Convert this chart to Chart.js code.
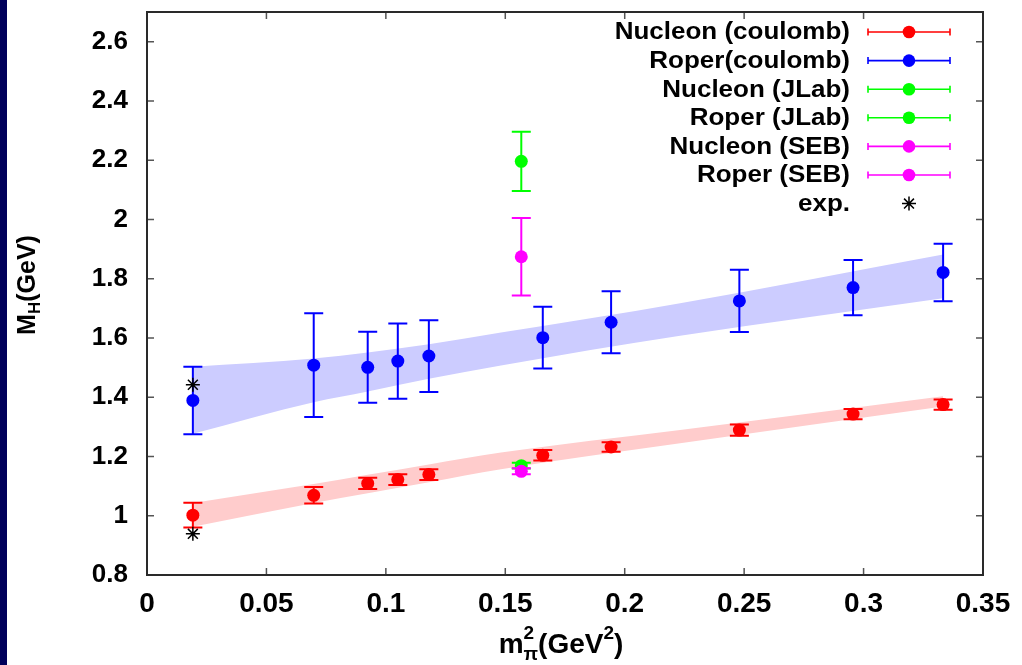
<!DOCTYPE html>
<html><head><meta charset="utf-8">
<script src="https://cdn.jsdelivr.net/npm/chart.js@4.4.1/dist/chart.umd.min.js"></script>
<style>html,body{margin:0;padding:0;background:#fff;overflow:hidden}#wrap{width:1022px;height:665px;position:relative}</style>
</head><body><div id="wrap"><canvas id="c" width="1022" height="665"></canvas></div>
<script>
// ---- data ----
const latticeX   = [0.0192, 0.0698, 0.0924, 0.105, 0.118, 0.1657, 0.1943, 0.248, 0.2956, 0.3333];
const nucleonY   = [1.002, 1.069, 1.109, 1.122, 1.139, 1.204, 1.232, 1.289, 1.343, 1.375];
const nucleonErr = [0.042, 0.028, 0.019, 0.018, 0.018, 0.018, 0.016, 0.019, 0.017, 0.017];
const roperY     = [1.389, 1.508, 1.501, 1.522, 1.539, 1.601, 1.653, 1.725, 1.770, 1.821];
const roperErr   = [0.114, 0.175, 0.120, 0.127, 0.121, 0.104, 0.105, 0.105, 0.093, 0.097];
const otherX          = [0.1567];
const jlabNucleonY    = [1.169];
const jlabNucleonErr  = [0.010];
const jlabRoperY      = [2.196];
const jlabRoperErr    = [0.100];
const sebNucleonY     = [1.150];
const sebNucleonErr   = [0.010];
const sebRoperY       = [1.874];
const sebRoperErr     = [0.131];
const expX = [0.0192, 0.0192];
const expY = [0.939, 1.442];
const bandX      = [0.0192, 0.0698, 0.0924, 0.118, 0.1482, 0.2232, 0.3333];
const roperUpper = [1.503, 1.531, 1.551, 1.579, 1.618, 1.717, 1.882];
const roperLower = [1.277, 1.383, 1.419, 1.462, 1.507, 1.607, 1.734];
const nucUpper   = [1.043, 1.107, 1.138, 1.173, 1.213, 1.289, 1.403];
const nucLower   = [0.963, 1.043, 1.076, 1.113, 1.157, 1.245, 1.369];
const xTicks = [0, 0.05, 0.1, 0.15, 0.2, 0.25, 0.3, 0.35];
const xTickLabels = ['0', '0.05', '0.1', '0.15', '0.2', '0.25', '0.3', '0.35'];
const yTicks = [0.8, 1.0, 1.2, 1.4, 1.6, 1.8, 2.0, 2.2, 2.4, 2.6];
const yTickLabels = ['0.8', '1', '1.2', '1.4', '1.6', '1.8', '2', '2.2', '2.4', '2.6'];
const seriesLabels = ['Nucleon (coulomb)', 'Roper(coulomb)', 'Nucleon (JLab)', 'Roper (JLab)', 'Nucleon (SEB)', 'Roper (SEB)', 'exp.'];

const FONT = "'Liberation Sans', Arial, sans-serif";
const NARROW = "'Liberation Sans Narrow', 'Liberation Sans', Arial, sans-serif";
const pts = (xs, ys) => xs.map((x, i) => ({x, y: ys[i]}));

function pointSet(label, xs, ys, errs, color, order) {
  return {type: 'scatter', label, data: pts(xs, ys), errs, errColor: color,
    pointRadius: 6.5, pointHoverRadius: 6.5, pointStyle: 'circle',
    backgroundColor: color, borderColor: color, borderWidth: 0, showLine: false, order};
}
function bandSet(label, ys, color, fill) {
  return {type: 'line', label, data: pts(bandX, ys), fill, backgroundColor: color,
    borderWidth: 0, borderColor: 'rgba(0,0,0,0)', pointRadius: 0, cubicInterpolationMode: 'monotone', order: 200};
}

const datasets = [
  pointSet(seriesLabels[0], latticeX, nucleonY, nucleonErr, '#ff0000', 100),
  pointSet(seriesLabels[1], latticeX, roperY, roperErr, '#0000ff', 99),
  pointSet(seriesLabels[2], otherX, jlabNucleonY, jlabNucleonErr, '#00ff00', 98),
  pointSet(seriesLabels[3], otherX, jlabRoperY, jlabRoperErr, '#00ff00', 97),
  pointSet(seriesLabels[4], otherX, sebNucleonY, sebNucleonErr, '#ff00ff', 96),
  pointSet(seriesLabels[5], otherX, sebRoperY, sebRoperErr, '#ff00ff', 95),
  {type: 'scatter', label: seriesLabels[6], data: pts(expX, expY), pointStyle: 'star', pointRadius: 7,
    borderColor: '#000', backgroundColor: '#000', borderWidth: 1.5, order: 94},
  bandSet('roperBandUpper', roperUpper, '#ccccff', '+1'),
  bandSet('roperBandLower', roperLower, '#ccccff', false),
  bandSet('nucBandUpper', nucUpper, '#ffcccc', '+1'),
  bandSet('nucBandLower', nucLower, '#ffcccc', false)
];

const bgPlugin = {id: 'bg', beforeDraw(chart) {
  const c = chart.ctx; c.save(); c.fillStyle = '#fff'; c.fillRect(0, 0, chart.width, chart.height);
  c.fillStyle = '#00005a'; c.fillRect(0, 0, 7, chart.height); c.restore();
}};

const errPlugin = {id: 'err', beforeDatasetDraw(chart, args) {
  const ds = chart.data.datasets[args.index]; if (!ds.errs) return;
  const c = chart.ctx, xs = chart.scales.x, ys = chart.scales.y, a = chart.chartArea;
  c.save(); c.beginPath(); c.rect(a.left, a.top, a.right - a.left, a.bottom - a.top); c.clip();
  c.strokeStyle = ds.errColor; c.lineWidth = 2;
  ds.data.forEach((p, i) => {
    const e = ds.errs[i], px = xs.getPixelForValue(p.x);
    const y1 = ys.getPixelForValue(p.y + e), y2 = ys.getPixelForValue(p.y - e);
    c.beginPath(); c.moveTo(px, y1); c.lineTo(px, y2);
    c.moveTo(px - 9.5, y1); c.lineTo(px + 9.5, y1);
    c.moveTo(px - 9.5, y2); c.lineTo(px + 9.5, y2); c.stroke();
  });
  c.restore();
}};

const framePlugin = {id: 'frame', afterDraw(chart) {
  const c = chart.ctx, a = chart.chartArea, xs = chart.scales.x, ys = chart.scales.y;
  c.save();
  c.strokeStyle = '#555'; c.lineWidth = 1.5; c.beginPath();
  xTicks.forEach(v => { const px = xs.getPixelForValue(v);
    c.moveTo(px, a.bottom); c.lineTo(px, a.bottom - 7); c.moveTo(px, a.top); c.lineTo(px, a.top + 7); });
  yTicks.forEach(v => { const py = ys.getPixelForValue(v);
    c.moveTo(a.left, py); c.lineTo(a.left + 7, py); c.moveTo(a.right, py); c.lineTo(a.right - 7, py); });
  c.stroke();
  c.strokeStyle = '#2a2a2a'; c.lineWidth = 2;
  c.strokeRect(a.left, a.top, a.right - a.left, a.bottom - a.top);

  // axis titles
  c.fillStyle = '#000'; c.textBaseline = 'alphabetic';
  c.save(); c.translate(35, 285); c.rotate(-Math.PI / 2);
  const ybig = 'bold 25px ' + FONT, ysmall = 'bold 17px ' + FONT;
  c.font = ybig; const wM = c.measureText('M').width, wG = c.measureText('(GeV)').width;
  c.font = ysmall; const wH = c.measureText('H').width;
  let x0 = -(wM + wH + wG) / 2;
  c.font = ybig; c.textAlign = 'left'; c.fillText('M', x0, 0);
  c.font = ysmall; c.fillText('H', x0 + wM, 5);
  c.font = ybig; c.fillText('(GeV)', x0 + wM + wH, 0);
  c.restore();
  const xbig = 'bold 28px ' + NARROW, xsmall = 'bold 19px ' + NARROW;
  c.font = xbig; const wm = c.measureText('m').width, wg = c.measureText('(GeV').width, wp = c.measureText(')').width;
  c.font = xsmall; const wpi = c.measureText('\u03c0').width, w2 = c.measureText('2').width;
  const tw = wm + Math.max(wpi, w2) + wg + w2 + wp;
  let cx = 561 - tw / 2; const base = 653; c.textAlign = 'left';
  c.font = xbig; c.fillText('m', cx, base); cx += wm;
  c.font = xsmall; c.fillText('\u03c0', cx, base + 7); c.fillText('2', cx, base - 14); cx += Math.max(wpi, w2);
  c.font = xbig; c.fillText('(GeV', cx, base); cx += wg;
  c.font = xsmall; c.fillText('2', cx, base - 14); cx += w2;
  c.font = xbig; c.fillText(')', cx, base);

  // legend
  const rowY0 = 32, rowStep = 28.6, textRight = 850, sx1 = 868, sx2 = 950, mx = 909;
  const legendSets = chart.data.datasets.slice(0, 7);
  legendSets.forEach((ds, i) => {
    const y = rowY0 + i * rowStep;
    c.save(); c.font = 'bold 23px ' + FONT; c.textAlign = 'right'; c.textBaseline = 'middle';
    c.translate(textRight, y + 1); c.scale(1.13, 1); c.fillStyle = '#000'; c.fillText(ds.label, 0, 0); c.restore();
    if (ds.errs) {
      c.strokeStyle = ds.errColor; c.lineWidth = 1.6; c.beginPath();
      c.moveTo(sx1, y); c.lineTo(sx2, y); c.moveTo(sx1, y - 3.5); c.lineTo(sx1, y + 3.5);
      c.moveTo(sx2, y - 3.5); c.lineTo(sx2, y + 3.5); c.stroke();
      c.fillStyle = ds.errColor; c.beginPath(); c.arc(mx, y, 6.3, 0, Math.PI * 2); c.fill();
    } else {
      c.save(); c.strokeStyle = '#000'; c.fillStyle = '#000'; c.lineWidth = 1.5;
      Chart.helpers.drawPoint(c, {pointStyle: 'star', radius: 7, borderWidth: 1.5}, mx, y);
      c.restore();
    }
  });
  c.restore();
}};

new Chart(document.getElementById('c'), {
  data: {datasets},
  options: {
    responsive: false, animation: false, devicePixelRatio: 1,
    layout: {padding: {left: 0, right: 39, top: 12, bottom: 0}},
    plugins: {legend: {display: false}, tooltip: {enabled: false}},
    scales: {
      x: {type: 'linear', min: 0, max: 0.35,
        afterBuildTicks: s => { s.ticks = xTicks.map(v => ({value: v})); },
        afterFit: s => { s.height = 90; s.paddingLeft = 0; s.paddingRight = 0; },
        grid: {display: false, drawTicks: false}, border: {display: false},
        ticks: {autoSkip: false, maxRotation: 0, padding: 12, color: '#000',
          font: {family: NARROW, size: 28, weight: 'bold'}, callback: (v, i) => xTickLabels[i]}},
      y: {type: 'linear', min: 0.8, max: 2.7,
        afterBuildTicks: s => { s.ticks = yTicks.map(v => ({value: v})); },
        afterFit: s => { s.width = 147; s.paddingTop = 0; s.paddingBottom = 0; },
        grid: {display: false, drawTicks: false}, border: {display: false},
        ticks: {autoSkip: false, padding: 19, color: '#000',
          font: {family: FONT, size: 26, weight: 'bold'}, callback: (v, i) => yTickLabels[i]}}
    }
  },
  plugins: [bgPlugin, errPlugin, framePlugin]
});
</script></body></html>
